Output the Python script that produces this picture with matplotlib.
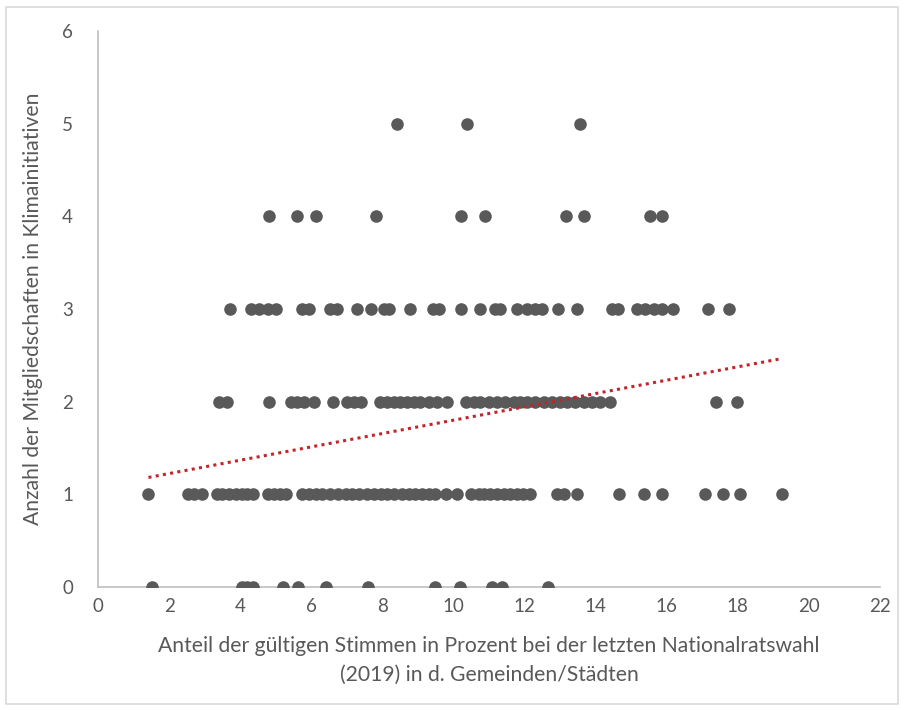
import numpy as np
import matplotlib.pyplot as plt
from matplotlib.patches import Rectangle

# x-Werte je Anzahl Mitgliedschaften (0..5)
x_0 = [1.52, 4.04, 4.20, 4.35, 5.21, 5.63, 6.41, 7.59, 9.49, 10.18, 11.09, 11.37, 12.67]
x_1 = [1.42, 2.52, 2.71, 2.92, 3.34, 3.50, 3.69, 3.88, 4.06, 4.20, 4.36, 4.78, 4.95,
       5.12, 5.30, 5.75, 5.94, 6.12, 6.31, 6.54, 6.76, 6.97, 7.15, 7.34, 7.58, 7.76,
       7.95, 8.14, 8.32, 8.56, 8.74, 8.93, 9.12, 9.31, 9.49, 9.80, 10.10, 10.48,
       10.71, 10.85, 11.04, 11.23, 11.41, 11.60, 11.79, 11.97, 12.16, 12.91, 13.10,
       13.47, 14.67, 15.37, 15.86, 17.08, 17.57, 18.06, 19.25]
x_2 = [3.41, 3.64, 4.81, 5.42, 5.61, 5.80, 6.08, 6.62, 7.01, 7.20, 7.39, 7.93, 8.12,
       8.32, 8.51, 8.70, 8.88, 9.07, 9.31, 9.54, 9.82, 10.34, 10.57, 10.76, 10.99,
       11.23, 11.46, 11.70, 11.88, 12.07, 12.30, 12.54, 12.78, 13.00, 13.20, 13.43,
       13.66, 13.90, 14.13, 14.41, 17.38, 17.97]
x_3 = [3.72, 4.30, 4.53, 4.77, 5.00, 5.75, 5.94, 6.54, 6.73, 7.29, 7.67, 8.06, 8.18,
       8.79, 9.43, 9.59, 10.20, 10.76, 11.18, 11.30, 11.79, 12.07, 12.30, 12.49,
       12.95, 13.47, 14.46, 14.64, 15.16, 15.39, 15.63, 15.86, 16.19, 17.17, 17.76]
x_4 = [4.81, 5.61, 6.12, 7.81, 10.20, 10.88, 13.17, 13.68, 15.53, 15.86]
x_5 = [8.42, 10.38, 13.57]

# lineare Trendlinie
trend_intercept = 1.08
trend_slope = 0.072

x_ticks = list(range(0, 24, 2))
y_ticks = list(range(0, 7))

rows = [x_0, x_1, x_2, x_3, x_4, x_5]
xs = np.concatenate([np.array(r) for r in rows])
ys = np.concatenate([np.full(len(r), i) for i, r in enumerate(rows)])

plt.rcParams['font.family'] = ['Lato', 'DejaVu Sans']

fig = plt.figure(figsize=(9.05, 7.10), dpi=100)
ax = fig.add_axes([98 / 905, 1 - 587 / 710, 782 / 905, 556 / 710])

ax.scatter(xs, ys, s=82, color='#595959', zorder=3, linewidths=0)

tx = np.array([xs.min(), xs.max()])
ax.plot(tx, trend_intercept + trend_slope * tx, color='#c0262b',
        linestyle=(0, (1, 1.4)), linewidth=2.2, zorder=4)

ax.set_xlim(0, 22)
ax.set_ylim(0, 6)
ax.set_xticks(x_ticks)
ax.set_yticks(y_ticks)
ax.tick_params(axis='both', length=0, labelsize=13.5, colors='#595959')
ax.tick_params(axis='x', pad=8)
ax.tick_params(axis='y', pad=18)

for side in ['top', 'right']:
    ax.spines[side].set_visible(False)
for side in ['left', 'bottom']:
    ax.spines[side].set_color('#bfbfbf')
    ax.spines[side].set_linewidth(1.2)

ax.set_xlabel('Anteil der gültigen Stimmen in Prozent bei der letzten Nationalratswahl\n(2019) in d. Gemeinden/Städten',
              fontsize=15.2, color='#595959', labelpad=15, linespacing=1.55)
ax.set_ylabel('Anzahl der Mitgliedschaften in Klimainitiativen',
              fontsize=15.2, color='#595959', labelpad=14)

# heller Rahmen um die Grafik
fig.patches.append(Rectangle((6 / 905, 6 / 710), 892 / 905, 697 / 710,
                             transform=fig.transFigure, fill=False,
                             edgecolor='#d9d9d9', linewidth=1.2))

fig.savefig('out.png', dpi=100)
